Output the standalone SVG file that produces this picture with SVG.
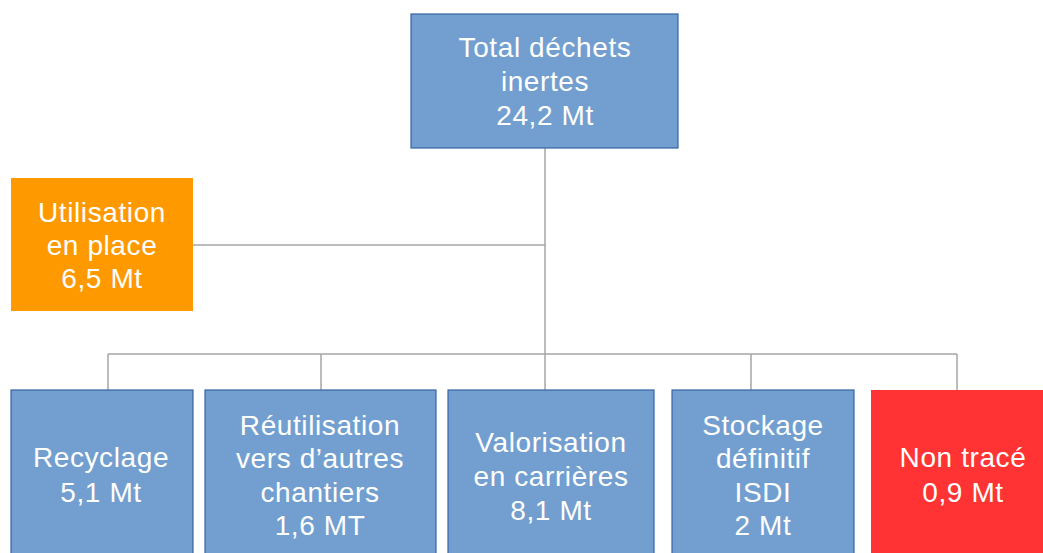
<svg xmlns="http://www.w3.org/2000/svg" width="1043" height="553" viewBox="0 0 1043 553">
<style>
.blue{fill:#729fcf;stroke:#3465a4;stroke-width:1.2}
.orange{fill:#ff9900}
.red{fill:#ff3333}
.t{font-family:"Liberation Sans",Arial,sans-serif;font-size:28px;letter-spacing:0.6px;fill:#ffffff;text-anchor:middle}
.c{stroke:#a6a6a6;stroke-width:1.5;fill:none}
</style>
<rect width="1043" height="553" fill="#ffffff"/>
<g id="connectors">
<path class="c" d="M545 148 V390"/>
<path class="c" d="M193 245 H545"/>
<path class="c" d="M108 354 H957"/>
<path class="c" d="M108 354 V390 M321 354 V390 M751 354 V390 M957 354 V390"/>
</g>
<g id="total">
<rect class="blue" x="411" y="14" width="267" height="134"/>
<text class="t" x="545" y="57">Total déchets</text>
<text class="t" x="545" y="91">inertes</text>
<text class="t" x="545" y="125">24,2 Mt</text>
</g>
<g id="utilisation">
<rect class="orange" x="11" y="178" width="182" height="133"/>
<text class="t" x="102" y="222">Utilisation</text>
<text class="t" x="102" y="255">en place</text>
<text class="t" x="102" y="288">6,5 Mt</text>
</g>
<g id="recyclage">
<rect class="blue" x="11" y="390" width="182" height="175"/>
<text class="t" x="101" y="467">Recyclage</text>
<text class="t" x="101" y="502">5,1 Mt</text>
</g>
<g id="reutilisation">
<rect class="blue" x="205" y="390" width="231" height="175"/>
<text class="t" x="320" y="435">Réutilisation</text>
<text class="t" x="320" y="468">vers d’autres</text>
<text class="t" x="320" y="502">chantiers</text>
<text class="t" x="320" y="535">1,6 MT</text>
</g>
<g id="valorisation">
<rect class="blue" x="448" y="390" width="206" height="175"/>
<text class="t" x="551" y="452">Valorisation</text>
<text class="t" x="551" y="486">en carrières</text>
<text class="t" x="551" y="520">8,1 Mt</text>
</g>
<g id="stockage">
<rect class="blue" x="672" y="390" width="182" height="175"/>
<text class="t" x="763" y="435">Stockage</text>
<text class="t" x="763" y="468">définitif</text>
<text class="t" x="763" y="502">ISDI</text>
<text class="t" x="763" y="535">2 Mt</text>
</g>
<g id="nontrace">
<rect class="red" x="871" y="390" width="190" height="175"/>
<text class="t" x="963" y="467">Non tracé</text>
<text class="t" x="963" y="502">0,9 Mt</text>
</g>
</svg>
